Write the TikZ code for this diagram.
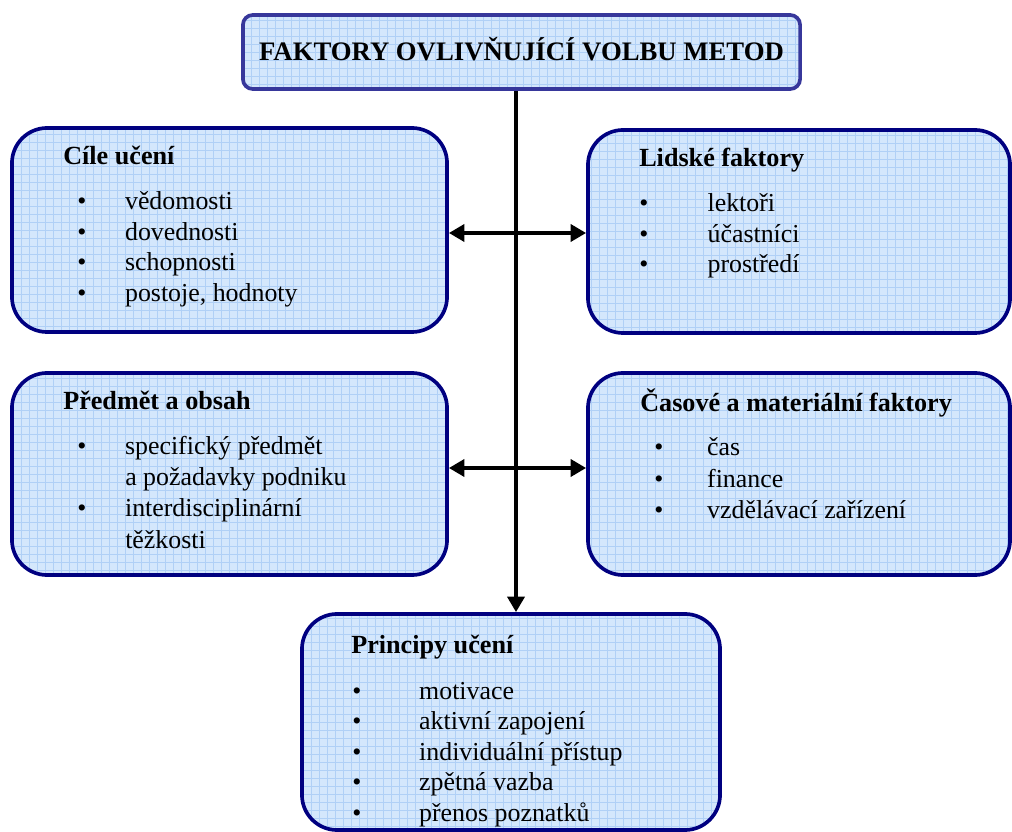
\documentclass[tikz,border=0pt]{standalone}
\usepackage{fontspec}
\setmainfont{Liberation Serif}
\usetikzlibrary{arrows.meta}
\definecolor{navy}{RGB}{0,0,128}
\definecolor{titlenavy}{RGB}{55,55,155}
\definecolor{panelblue}{RGB}{212,231,252}
\definecolor{gridblue}{RGB}{176,208,246}
\newcommand{\bul}[1][34pt]{\makebox[#1][l]{•}}

\begin{document}
\begin{tikzpicture}[x=0.025cm, y=-0.025cm, >={Triangle[length=11pt,width=12pt]},
  panel/.style={draw=navy, line width=2.6pt, rounded corners=25pt, fill=panelblue, inner sep=0pt,
    path picture={\draw[gridblue, line width=0.5pt] (path picture bounding box.south west) grid[step=0.2cm] (path picture bounding box.north east);}},
  head/.style={anchor=base west, inner sep=0pt, font=\fontsize{18.6}{22}\selectfont\bfseries},
  item/.style={anchor=base west, inner sep=0pt, font=\fontsize{18.4}{22}\selectfont},
  link/.style={line width=3.4pt}]
  \useasboundingbox (0,0) rectangle (1012,832);
  % boxes
  \node[panel, draw=titlenavy, rounded corners=7pt, minimum width=13.925cm, minimum height=1.85cm,
        text height=12.5pt, text depth=0pt, font=\fontsize{19}{22}\selectfont\bfseries] (title) at (521.5,52) {FAKTORY OVLIVŇUJÍCÍ VOLBU METOD};
  \node[panel, minimum width=10.875cm, minimum height=5.1cm] (cile) at (229.5,230) {};
  \node[panel, minimum width=10.55cm, minimum height=5.075cm] (lidske) at (799,231.5) {};
  \node[panel, minimum width=10.875cm, minimum height=5.05cm] (predmet) at (229.5,474) {};
  \node[panel, minimum width=10.55cm, minimum height=5.05cm] (casove) at (799,474) {};
  \node[panel, minimum width=10.45cm, minimum height=5.4cm] (principy) at (511,722) {};
  % connectors
  \coordinate (row1) at (516,233);
  \coordinate (row2) at (516,468);
  \draw[link, ->] (title.south -| row1) -- (principy.north -| row1);
  \draw[link, <->] (row1 -| cile.east) -- (row1 -| lidske.west);
  \draw[link, <->] (row2 -| predmet.east) -- (row2 -| casove.west);
  % Cile uceni
  \node[head] (cile-h) at (63,165) {Cíle učení};
  \node[item] (cile-1) at (77,210) {\bul vědomosti};
  \node[item] (cile-2) at (77,240.5) {\bul dovednosti};
  \node[item] (cile-3) at (77,271) {\bul schopnosti};
  \node[item] (cile-4) at (77,301.5) {\bul postoje, hodnoty};
  % Lidske faktory
  \node[head] (lidske-h) at (639,167) {Lidské faktory};
  \node[item] (lidske-1) at (639,212) {\bul[44pt] lektoři};
  \node[item] (lidske-2) at (639,242.5) {\bul[44pt] účastníci};
  \node[item] (lidske-3) at (639,273) {\bul[44pt] prostředí};
  % Predmet a obsah
  \node[head] (predmet-h) at (63,410) {Předmět a obsah};
  \node[item] (predmet-1) at (77,455) {\bul specifický předmět};
  \node[item] (predmet-2) at (125,485.5) {a požadavky podniku};
  \node[item] (predmet-3) at (77,517) {\bul interdisciplinární};
  \node[item] (predmet-4) at (125,548) {těžkosti};
  % Casove a materialni faktory
  \node[head] (casove-h) at (640,412) {Časové a materiální faktory};
  \node[item] (casove-1) at (654,456) {\bul[33pt] čas};
  \node[item] (casove-2) at (654,487) {\bul[33pt] finance};
  \node[item] (casove-3) at (654,518) {\bul[33pt] vzdělávací zařízení};
  % Principy uceni
  \node[head] (principy-h) at (351,653) {Principy učení};
  \node[item] (principy-1) at (352,699) {\bul[43pt] motivace};
  \node[item] (principy-2) at (352,729.5) {\bul[43pt] aktivní zapojení};
  \node[item] (principy-3) at (352,760) {\bul[43pt] individuální přístup};
  \node[item] (principy-4) at (352,790.5) {\bul[43pt] zpětná vazba};
  \node[item] (principy-5) at (352,821) {\bul[43pt] přenos poznatků};
\end{tikzpicture}
\end{document}
